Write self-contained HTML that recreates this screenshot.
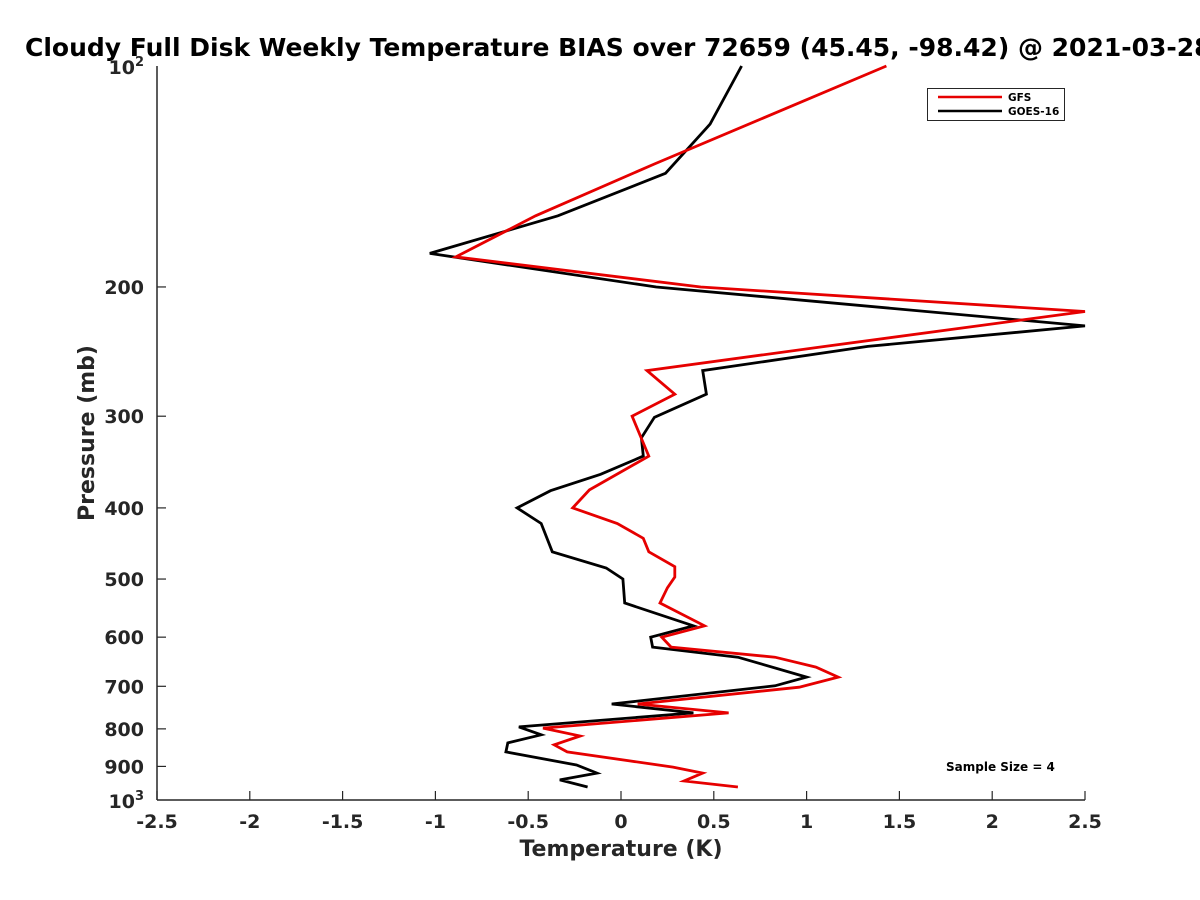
<!DOCTYPE html>
<html><head><meta charset="utf-8"><style>
html,body{margin:0;padding:0;background:#fff;width:1200px;height:900px;overflow:hidden}
svg text{font-family:"DejaVu Sans","Liberation Sans",sans-serif;font-weight:bold;fill:#262626}
</style></head><body>
<svg id="chart" width="1200" height="900" xmlns="http://www.w3.org/2000/svg">
<text x="25" y="56" font-size="25" style="fill:#000">Cloudy Full Disk Weekly Temperature BIAS over 72659 (45.45, -98.42) @ 2021-03-28</text>
<g id="axes"></g>
<g id="series"></g>
<g>
<rect x="927.5" y="88.5" width="137" height="32" fill="#fff" stroke="#262626" stroke-width="1"/>
<g><line x1="938" y1="97" x2="1002" y2="97" stroke="#e60000" stroke-width="2.5"/><text x="1008" y="101" font-size="10.5" style="fill:#000">GFS</text></g>
<g><line x1="938" y1="111" x2="1002" y2="111" stroke="#000" stroke-width="2.5"/><text x="1008" y="115" font-size="10.5" style="fill:#000">GOES-16</text></g>
</g>
<text x="946" y="771" font-size="12" style="fill:#000">Sample Size = 4</text>
<text x="621" y="856" font-size="22" text-anchor="middle">Temperature (K)</text>
<text transform="translate(94,433) rotate(-90)" font-size="22" text-anchor="middle">Pressure (mb)</text>
</svg>
<script>
const xTicks = [-2.5,-2,-1.5,-1,-0.5,0,0.5,1,1.5,2,2.5];
const xTickLabels = ["-2.5","-2","-1.5","-1","-0.5","0","0.5","1","1.5","2","2.5"];
const yTicks = [200,300,400,500,600,700,800,900];
const gfsPressure = [100,136,160,182,200,216,241,260,280,300,340,378,400,420,440,459,481,497,514,539,579,600,619,639,659,680,702,740,761,798,818,841,860,902,919,942,960];
const gfsTemp = [1.43,0.18,-0.46,-0.89,0.43,2.5,1.10,0.14,0.29,0.06,0.15,-0.17,-0.26,-0.02,0.12,0.15,0.29,0.29,0.25,0.21,0.45,0.22,0.27,0.83,1.05,1.17,0.96,0.09,0.58,-0.42,-0.22,-0.36,-0.29,0.28,0.44,0.34,0.63];
const goesPressure = [100,120,140,160,180,200,226,241,260,280,301,321,340,360,379,400,420,459,483,500,539,579,600,619,639,680,699,740,761,795,815,836,860,896,919,939,960];
const goesTemp = [0.65,0.48,0.24,-0.34,-1.03,0.19,2.5,1.33,0.44,0.46,0.18,0.11,0.12,-0.11,-0.38,-0.56,-0.43,-0.37,-0.08,0.01,0.02,0.39,0.16,0.17,0.63,1.00,0.83,-0.05,0.39,-0.55,-0.43,-0.61,-0.62,-0.24,-0.13,-0.33,-0.18];

const X0=157,X1=1085,Y0=66,Y1=800,XMIN=-2.5,XMAX=2.5;
const NS="http://www.w3.org/2000/svg";
function xs(v){return X0+(Math.min(Math.max(v,XMIN),XMAX)-XMIN)/(XMAX-XMIN)*(X1-X0);}
function ys(p){return Y0+(Math.log10(p)-2)*(Y1-Y0);}
function mk(tag,attrs,parent){const e=document.createElementNS(NS,tag);for(const k in attrs)e.setAttribute(k,attrs[k]);parent.appendChild(e);return e;}
const axes=document.getElementById('axes');
const xAxis=mk('line',{x1:X0,y1:Y1,x2:X1,y2:Y1,stroke:'#262626','stroke-width':1.5},axes);


const yAxis=mk('line',{x1:X0,y1:Y0,x2:X0,y2:Y1,stroke:'#262626','stroke-width':1.5},axes);


xTicks.forEach((v,i)=>{
  const t=mk('line',{x1:xs(v),y1:Y1,x2:xs(v),y2:Y1-9,stroke:'#262626','stroke-width':1.2},axes);
  
  
  const l=mk('text',{x:xs(v),y:Y1+28,'font-size':19,'text-anchor':'middle'},axes);
  l.textContent=xTickLabels[i];
  
  
});
yTicks.forEach(p=>{
  const t=mk('line',{x1:X0,y1:ys(p),x2:X0+9,y2:ys(p),stroke:'#262626','stroke-width':1.2},axes);
  
  
  const l=mk('text',{x:X0-13,y:ys(p)+7,'font-size':19,'text-anchor':'end'},axes);
  l.textContent=String(p);
  
  
});
[[100,'2'],[1000,'3']].forEach(([p,e])=>{
  const l=mk('text',{x:X0-13,y:ys(p)+8,'font-size':19,'text-anchor':'end'},axes);
  l.innerHTML='10<tspan dy="-8" font-size="13">'+e+'</tspan>';
  
  
});
const series=document.getElementById('series');
function line(ps,ts,color,name){
  const pts=ps.map((p,i)=>xs(ts[i]).toFixed(1)+','+ys(p).toFixed(1)).join(' ');
  const pl=mk('polyline',{points:pts,fill:'none',stroke:color,'stroke-width':2.8,'stroke-linejoin':'miter'},series);
  
  
}
line(goesPressure,goesTemp,'#000','goes16-line');
line(gfsPressure,gfsTemp,'#e60000','gfs-line');
</script>
</body></html>
